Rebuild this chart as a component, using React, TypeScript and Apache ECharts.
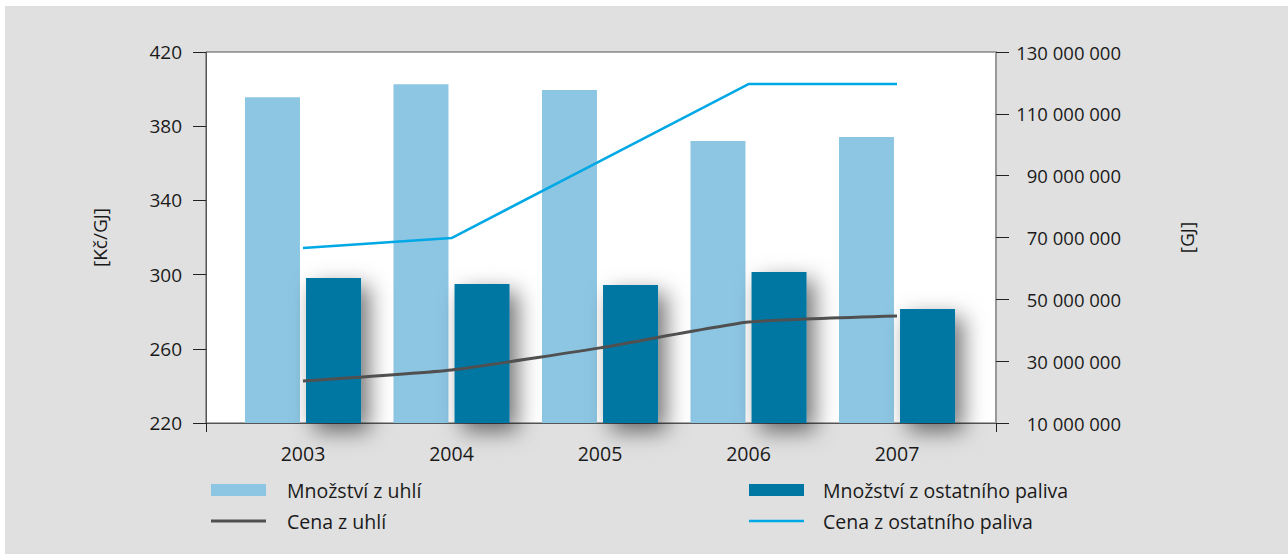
import React, { useEffect, useRef } from "react";
import * as echarts from "echarts";

const years = ["2003", "2004", "2005", "2006", "2007"];
const coalQuantity = [115400000, 119600000, 117700000, 101200000, 102500000];
const otherQuantity = [56900000, 55000000, 54600000, 58850000, 46900000];
const coalPrice = [242.6, 248.6, 260.5, 274.4, 277.7];
const otherPrice = [314.3, 319.7, 361.2, 402.7, 402.7];

const leftTicks = { min: 220, max: 420, interval: 40 };
const rightTicks = { min: 10000000, max: 130000000, interval: 20000000 };

const FONT = "Open Sans";
const TXT = "#1a1a1a";

const fmt = (v: number) =>
  String(Math.round(v)).replace(/\B(?=(\d{3})+(?!\d))/g, " ");

export default function App() {
  const ref = useRef<HTMLDivElement>(null);
  useEffect(() => {
    document.body.style.margin = "0";
    const chart = echarts.init(ref.current!, null, { renderer: "svg" });
    const gridTop = 52;
    const gridH = 371;
    const legendText = {
      fontFamily: FONT,
      fontSize: 19.5,
      color: TXT,
      lineHeight: 20,
    };
    chart.setOption({
      animation: false,
      backgroundColor: "#e0e0e0",
      textStyle: { fontFamily: FONT, color: TXT },
      grid: [
        {
          left: 201,
          top: gridTop - 6,
          width: 790,
          height: gridH,
          show: true,
          backgroundColor: "#ffffff",
          borderColor: "#555555",
          borderWidth: 1,
        },
        { left: 223.75, top: gridTop - 6, width: 742.5, height: gridH },
      ],
      legend: [
        {
          left: 206,
          top: 474,
          padding: 0,
          orient: "vertical",
          itemWidth: 55,
          itemHeight: 12,
          itemGap: 11,
          symbolKeepAspect: true,
          data: [
            { name: "Množství z uhlí", icon: "rect" },
            { name: "Cena z uhlí", icon: "path://M0,0h55v3h-55z" },
          ],
          textStyle: { ...legendText, padding: [0, 0, 0, 16] },
        },
        {
          left: 744,
          top: 474,
          padding: 0,
          orient: "vertical",
          itemWidth: 55,
          itemHeight: 12,
          itemGap: 11,
          symbolKeepAspect: true,
          data: [
            { name: "Množství z ostatního paliva", icon: "rect" },
            { name: "Cena z ostatního paliva", icon: "path://M0,0h110v5h-110z" },
          ],
          textStyle: { ...legendText, padding: [0, 0, 0, 14] },
        },
      ],
      xAxis: [
        {
          gridIndex: 0,
          type: "value",
          min: 0,
          max: 1,
          interval: 1,
          axisLine: { show: true, lineStyle: { color: "#555555", width: 1 } },
          axisTick: { show: true, length: 9, lineStyle: { color: "#222222" } },
          axisLabel: { show: false },
          splitLine: { show: false },
        },
        {
          gridIndex: 1,
          type: "category",
          data: years,
          axisLine: { show: false },
          axisTick: { show: false },
          axisLabel: {
            margin: 20,
            fontFamily: FONT,
            fontSize: 19.5,
            color: TXT,
          },
        },
      ],
      yAxis: [
        {
          gridIndex: 0,
          type: "value",
          position: "left",
          ...leftTicks,
          name: "[Kč/GJ]",
          nameLocation: "middle",
          nameRotate: 90,
          nameGap: 97,
          nameTextStyle: { fontFamily: FONT, fontSize: 19, color: TXT },
          axisLine: { show: true, lineStyle: { color: "#555555" } },
          axisTick: { show: true, length: 13, lineStyle: { color: "#222222" } },
          axisLabel: { margin: 24, fontFamily: FONT, fontSize: 19, color: TXT },
          splitLine: { show: false },
        },
        {
          gridIndex: 0,
          type: "value",
          position: "right",
          ...rightTicks,
          name: "[GJ]",
          nameLocation: "middle",
          nameRotate: 90,
          nameGap: 181,
          nameTextStyle: { fontFamily: FONT, fontSize: 19, color: TXT },
          axisLine: { show: true, lineStyle: { color: "#999999", width: 2 } },
          axisTick: { show: true, length: 13, lineStyle: { color: "#222222" } },
          axisLabel: {
            margin: 125,
            align: "right",
            fontFamily: FONT,
            fontSize: 18.5,
            color: TXT,
            formatter: fmt,
          },
          splitLine: { show: false },
        },
        {
          gridIndex: 1,
          type: "value",
          ...leftTicks,
          show: false,
        },
        {
          gridIndex: 1,
          type: "value",
          ...rightTicks,
          show: false,
        },
      ],
      series: [
        {
          name: "Množství z uhlí",
          type: "bar",
          xAxisIndex: 1,
          yAxisIndex: 3,
          data: coalQuantity,
          barWidth: 55,
          barGap: "11%",
          itemStyle: { color: "#8dc6e3" },
        },
        {
          name: "Množství z ostatního paliva",
          type: "bar",
          xAxisIndex: 1,
          yAxisIndex: 3,
          data: otherQuantity,
          barWidth: 55,
          barGap: "11%",
          itemStyle: {
            color: "#0076a3",
            shadowColor: "rgba(0,0,0,0.55)",
            shadowBlur: 22,
            shadowOffsetX: 8,
            shadowOffsetY: 8,
          },
        },
        {
          name: "Cena z uhlí",
          type: "line",
          xAxisIndex: 1,
          yAxisIndex: 2,
          data: coalPrice,
          symbol: "none",
          smooth: 0.15,
          lineStyle: { color: "#505050", width: 3 },
          itemStyle: { color: "#505050" },
        },
        {
          name: "Cena z ostatního paliva",
          type: "line",
          xAxisIndex: 1,
          yAxisIndex: 2,
          data: otherPrice,
          symbol: "none",
          lineStyle: { color: "#00a8e6", width: 2.5 },
          itemStyle: { color: "#00a8e6" },
        },
      ],
    });
    return () => chart.dispose();
  }, []);
  return (
    <div
      style={{
        position: "absolute",
        left: 0,
        top: 0,
        width: 1288,
        height: 554,
        background: "#ffffff",
      }}
    >
      <div
        ref={ref}
        style={{ position: "absolute", left: 5, top: 6, width: 1283, height: 548 }}
      />
    </div>
  );
}
